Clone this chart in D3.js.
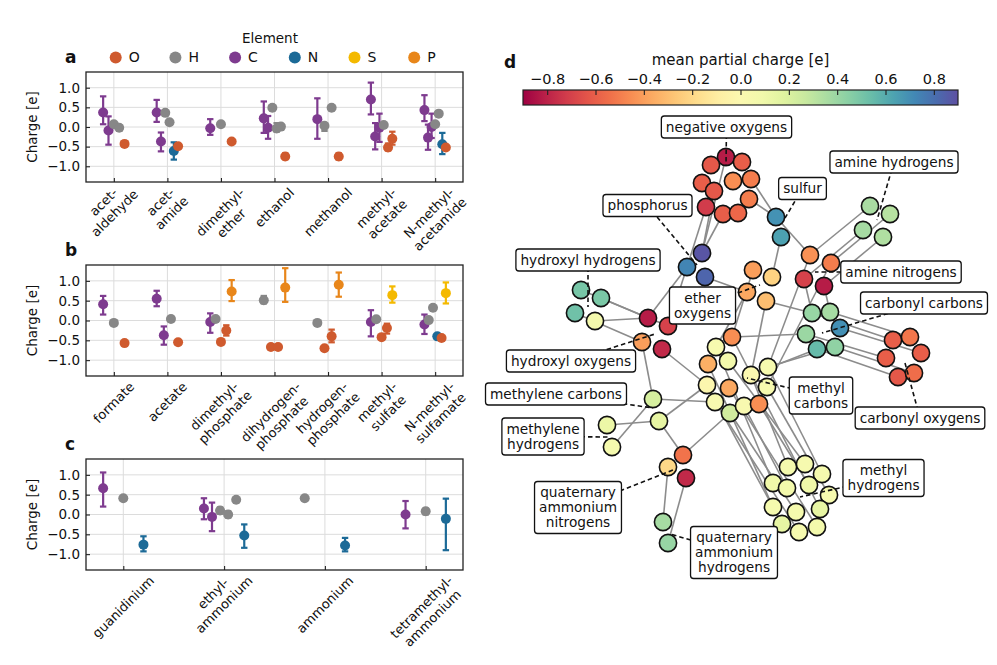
<!DOCTYPE html>
<html>
<head>
<meta charset="utf-8">
<script src="https://cdn.jsdelivr.net/npm/d3@7"></script>
<style>
  body { margin: 0; background: #fff; }
  text { font-family: "DejaVu Sans", sans-serif; fill: #111; }
</style>
</head>
<body>
<svg id="fig" width="997" height="665"></svg>
<script>
// ---- data: panels a-c (mean charge with low/high of the spread) ----
const ELEMENTS = ["O", "H", "C", "N", "S", "P"];
const chargeTicks = [-1.0, -0.5, 0.0, 0.5, 1.0];

const moleculesA = ["acet-\naldehyde", "acet-\namide", "dimethyl-\nether", "ethanol", "methanol", "methyl-\nacetate", "N-methyl-\nacetamide"];
// [molecule index, element, mean, low, high]
const chargesA = [
  [0, "C", 0.37, 0.07, 0.78], [0, "C", -0.09, -0.45, 0.27], [0, "H", 0.07, 0.03, 0.11], [0, "H", -0.02, -0.09, 0.05], [0, "O", -0.43, -0.48, -0.37],
  [1, "C", 0.37, 0.13, 0.69], [1, "C", -0.37, -0.62, -0.14], [1, "H", 0.36, 0.33, 0.39], [1, "H", 0.12, 0.09, 0.15], [1, "N", -0.61, -0.83, -0.39], [1, "O", -0.49, -0.54, -0.44],
  [2, "C", -0.03, -0.2, 0.2], [2, "H", 0.07, 0.05, 0.09], [2, "O", -0.37, -0.43, -0.31],
  [3, "C", 0.22, -0.15, 0.65], [3, "C", -0.02, -0.3, 0.28], [3, "H", 0.49, 0.46, 0.52], [3, "H", -0.04, -0.12, 0.1], [3, "H", 0.01, -0.05, 0.06], [3, "O", -0.75, -0.82, -0.67],
  [4, "C", 0.2, -0.3, 0.73], [4, "H", 0.03, -0.1, 0.1], [4, "H", 0.49, 0.46, 0.52], [4, "O", -0.75, -0.83, -0.67],
  [5, "C", 0.7, 0.32, 1.13], [5, "C", -0.24, -0.57, 0.1], [5, "C", -0.02, -0.38, 0.34], [5, "H", 0.05, 0.02, 0.08], [5, "O", -0.52, -0.6, -0.42], [5, "O", -0.3, -0.45, -0.12],
  [6, "C", 0.43, 0.15, 0.81], [6, "C", -0.27, -0.58, 0.06], [6, "C", 0.0, -0.28, 0.34], [6, "H", 0.07, 0.04, 0.1], [6, "H", 0.34, 0.31, 0.37], [6, "N", -0.44, -0.69, -0.15], [6, "O", -0.52, -0.58, -0.46]
];

const moleculesB = ["formate", "acetate", "dimethyl-\nphosphate", "dihydrogen-\nphosphate", "hydrogen-\nphosphate", "methyl-\nsulfate", "N-methyl-\nsulfamate"];
const chargesB = [
  [0, "C", 0.41, 0.15, 0.62], [0, "H", -0.06, -0.09, -0.03], [0, "O", -0.57, -0.6, -0.54],
  [1, "C", 0.55, 0.36, 0.75], [1, "C", -0.37, -0.61, -0.15], [1, "H", 0.04, 0.01, 0.07], [1, "O", -0.55, -0.58, -0.52],
  [2, "C", -0.04, -0.31, 0.18], [2, "H", 0.04, 0.01, 0.07], [2, "O", -0.54, -0.58, -0.5], [2, "O", -0.25, -0.38, -0.12], [2, "P", 0.73, 0.49, 1.02],
  [3, "H", 0.51, 0.43, 0.62], [3, "O", -0.67, -0.72, -0.62], [3, "O", -0.67, -0.72, -0.62], [3, "P", 0.83, 0.47, 1.32],
  [4, "H", -0.06, -0.09, -0.03], [4, "O", -0.7, -0.74, -0.66], [4, "O", -0.4, -0.55, -0.23], [4, "P", 0.9, 0.6, 1.21],
  [5, "C", -0.04, -0.4, 0.26], [5, "H", 0.03, 0.0, 0.06], [5, "O", -0.42, -0.45, -0.39], [5, "O", -0.19, -0.33, -0.08], [5, "S", 0.64, 0.45, 0.86],
  [6, "C", -0.1, -0.34, 0.15], [6, "H", 0.01, -0.02, 0.04], [6, "H", 0.32, 0.29, 0.35], [6, "N", -0.4, -0.43, -0.37], [6, "O", -0.44, -0.47, -0.41], [6, "S", 0.69, 0.43, 0.96]
];

const moleculesC = ["guanidinium", "ethyl-\nammonium", "ammonium", "tetramethyl-\nammonium"];
const chargesC = [
  [0, "C", 0.66, 0.2, 1.06], [0, "H", 0.41, 0.39, 0.43], [0, "N", -0.76, -0.93, -0.55],
  [1, "C", 0.15, -0.12, 0.41], [1, "C", -0.06, -0.42, 0.3], [1, "H", 0.1, 0.02, 0.18], [1, "H", 0.0, -0.08, 0.08], [1, "H", 0.37, 0.35, 0.39], [1, "N", -0.53, -0.84, -0.25],
  [2, "H", 0.41, 0.39, 0.43], [2, "N", -0.78, -0.93, -0.59],
  [3, "C", 0.0, -0.35, 0.34], [3, "H", 0.08, 0.0, 0.15], [3, "N", -0.11, -0.9, 0.4]
];

// ---- data: panel d (graph layout coordinates, mean partial charge) ----
const graphNodes = [
  ["O1", 726, 157, -0.82], ["O2", 711, 165, -0.62], ["O3", 742, 162, -0.6], ["O4", 702, 183, -0.6],
  ["O5", 733, 181, -0.45], ["O6", 751, 179, -0.5], ["O7", 714, 191, -0.62], ["O8", 749, 199, -0.5],
  ["O9", 706, 207, -0.72], ["O10", 723, 214, -0.6], ["O11", 738, 213, -0.57],
  ["P1", 702, 253, 0.88], ["P2", 687, 267, 0.73], ["P3", 705, 277, 0.83],
  ["S1", 776, 217, 0.69], ["S2", 781, 237, 0.64],
  ["HH1", 581, 290, 0.5], ["HH2", 601, 298, 0.49], ["HH3", 575, 313, 0.52], ["HH4", 595, 321, 0.07],
  ["HO1", 648, 318, -0.82], ["HO2", 668, 326, -0.7], ["HO3", 642, 342, -0.4], ["HO4", 662, 349, -0.78],
  ["E1", 753, 270, -0.4], ["E2", 772, 277, -0.22], ["E3", 747, 292, -0.37], ["E4", 766, 301, -0.3],
  ["AH1", 870, 206, 0.36], ["AH2", 890, 214, 0.32], ["AH3", 863, 230, 0.37], ["AH4", 883, 237, 0.34],
  ["AN1", 810, 255, -0.44], ["AN2", 831, 263, -0.5], ["AN3", 804, 279, -0.7], ["AN4", 824, 286, -0.82],
  ["CC1", 812, 313, 0.41], ["CC2", 830, 312, 0.37], ["CC3", 840, 328, 0.7], ["CC4", 806, 334, 0.4], ["CC5", 817, 349, 0.55], ["CC6", 835, 347, 0.43],
  ["CO1", 893, 340, -0.6], ["CO2", 910, 337, -0.52], ["CO3", 921, 353, -0.6], ["CO4", 886, 358, -0.6], ["CO5", 898, 377, -0.62], ["CO6", 914, 373, -0.55],
  ["M1", 716, 347, 0.04], ["M2", 732, 337, -0.45], ["M3", 708, 364, -0.35], ["M4", 728, 361, 0.08],
  ["M5", 707, 385, -0.03], ["M6", 729, 388, -0.37], ["M7", 715, 402, 0.03], ["M8", 730, 413, 0.24],
  ["M9", 744, 406, 0.03], ["M10", 759, 404, -0.45], ["M11", 751, 375, 0.0], ["M12", 768, 367, 0.05], ["M13", 767, 387, 0.04],
  ["MC1", 653, 399, 0.22], ["MC2", 659, 421, 0.15], ["MH1", 607, 425, 0.12], ["MH2", 612, 447, 0.06],
  ["QN1", 683, 455, -0.53], ["QN2", 668, 467, -0.2], ["QN3", 686, 478, -0.78],
  ["QH1", 663, 522, 0.37], ["QH2", 668, 543, 0.41],
  ["MeH1", 788, 467, 0.07], ["MeH2", 805, 464, 0.05], ["MeH3", 822, 474, 0.06], ["MeH4", 773, 483, 0.1],
  ["MeH5", 787, 488, 0.08], ["MeH6", 809, 485, 0.1], ["MeH7", 829, 495, 0.05], ["MeH8", 773, 507, 0.06],
  ["MeH9", 796, 512, 0.06], ["MeH10", 820, 509, 0.15], ["MeH11", 782, 524, 0.15], ["MeH12", 799, 532, 0.05], ["MeH13", 817, 527, 0.08]
];

const graphEdges = [
  ["O1", "P1"], ["O10", "P1"], ["O9", "P2"], ["O7", "P1"], ["O8", "S1"], ["O6", "S1"],
  ["S1", "AN1"], ["S2", "E2"], ["P3", "E3"], ["P2", "HO1"], ["P2", "HO2"],
  ["HH2", "HO1"], ["HH4", "HO1"], ["HH3", "HO3"], ["HH1", "HO2"],
  ["HO3", "MC1"], ["HO4", "M5"],
  ["MC1", "M7"], ["MC2", "M5"], ["MH1", "MC2"], ["MH2", "MC1"], ["MC2", "QN1"], ["QN1", "M8"],
  ["QN2", "QH1"], ["QN3", "QH2"],
  ["M1", "MeH4"], ["M3", "MeH8"], ["M5", "MeH11"], ["M7", "MeH12"], ["M8", "MeH9"], ["M9", "MeH5"],
  ["M10", "MeH6"], ["M11", "MeH1"], ["M12", "MeH3"], ["M13", "MeH7"], ["M6", "MeH13"], ["M4", "MeH2"], ["M2", "MeH10"],
  ["CC1", "CO1"], ["CC2", "CO2"], ["CC3", "CO3"], ["CC4", "CO4"], ["CC5", "CO5"], ["CC6", "CO6"],
  ["CC1", "AN3"], ["CC2", "AN4"], ["CC4", "M2"], ["CC5", "M11"], ["CC6", "M12"],
  ["E4", "CC1"], ["E3", "M1"], ["E1", "M2"], ["E4", "M11"],
  ["AH1", "AN1"], ["AH2", "AN2"], ["AH3", "AN3"], ["AH4", "AN4"], ["AN1", "M12"], ["AN2", "M13"]
];

// [text, label x, label y, pointed x, pointed y] in layout coordinates
const graphLabels = [
  ["negative oxygens", 726.5, 127, 726, 165],
  ["phosphorus", 647.5, 205.5, 697, 265],
  ["sulfur", 802.5, 188.5, 785, 218],
  ["amine hydrogens", 894, 162, 877, 220],
  ["hydroxyl hydrogens", 588, 260, 588, 307],
  ["ether\noxygens", 702.5, 305.5, 760, 285],
  ["amine nitrogens", 901, 272, 815, 272],
  ["carbonyl carbons", 924, 303, 822, 333],
  ["hydroxyl oxygens", 571, 361, 655, 334],
  ["methylene carbons", 556, 394, 653, 408],
  ["methyl\ncarbons", 821, 395.5, 747, 378],
  ["carbonyl oxygens", 920, 418, 905, 363],
  ["methylene\nhydrogens", 543, 436.5, 610, 437],
  ["methyl\nhydrogens", 883.5, 478, 800, 497],
  ["quaternary\nammonium\nnitrogens", 578, 507.5, 673, 470],
  ["quaternary\nammonium\nhydrogens", 734, 552.5, 670, 534]
];

const colorbarTicks = [-0.8, -0.6, -0.4, -0.2, 0.0, 0.2, 0.4, 0.6, 0.8];

// ---- styles ----
const ELEMENT_COLOR = { O: "#cf5a2e", H: "#878787", C: "#7e3b8f", N: "#1c6a97", S: "#f4b900", P: "#e8861a" };
const PLOT_LEFT = 86, PLOT_RIGHT = 463;
const fmt = d3.format(".1f");

const svg = d3.select("#fig");
svg.append("rect").attr("width", 997).attr("height", 665).attr("fill", "#fff");

// Places a 45 degree category label so its box is centred under the tick (matplotlib style)
function rotatedLabel(parent, name, cx, top, fs) {
  const outer = parent.append("g");
  const t = outer.append("text").attr("font-size", fs).attr("text-anchor", "middle")
    .attr("transform", "rotate(-45)");
  const lines = name.split("\n");
  const lh = 1.2 * fs, asc = 0.93 * fs, desc = 0.24 * fs, c = Math.SQRT1_2;
  lines.forEach((line, k) => {
    t.append("tspan").attr("x", 0).attr("y", k * lh).text(line);
  });
  let minX = Infinity, maxX = -Infinity, minY = Infinity;
  t.selectAll("tspan").nodes().forEach((n, k) => {
    const L = n.getComputedTextLength();
    [[-L / 2, k * lh - asc], [L / 2, k * lh - asc], [-L / 2, k * lh + desc], [L / 2, k * lh + desc]]
      .forEach(([px, py]) => {
        const rx = c * (px + py), ry = c * (-px + py);
        minX = Math.min(minX, rx); maxX = Math.max(maxX, rx); minY = Math.min(minY, ry);
      });
  });
  outer.attr("transform", `translate(${cx - (minX + maxX) / 2},${top - minY})`);
}

// Draws one of the charge panels a, b, c
function drawPanel(p) {
  const n = p.molecules.length;
  const x = d3.scaleLinear().domain([-p.pad, n - 1 + p.pad]).range([PLOT_LEFT, PLOT_RIGHT]);
  const y = d3.scaleLinear().domain([-1.4, 1.4]).range([p.bottom, p.top]);
  const g = svg.append("g");

  // grid
  g.append("g").selectAll("line").data(chargeTicks).join("line")
    .attr("x1", PLOT_LEFT).attr("x2", PLOT_RIGHT)
    .attr("y1", d => y(d)).attr("y2", d => y(d))
    .attr("stroke", "#dcdcdc").attr("stroke-width", 1);
  g.append("g").selectAll("line").data(d3.range(n)).join("line")
    .attr("x1", d => x(d)).attr("x2", d => x(d))
    .attr("y1", p.top).attr("y2", p.bottom)
    .attr("stroke", "#dcdcdc").attr("stroke-width", 1);

  // axes with inward ticks
  const yAxis = g.append("g").attr("transform", `translate(${PLOT_LEFT},0)`)
    .call(d3.axisLeft(y).tickValues(chargeTicks).tickSize(-4).tickPadding(6).tickFormat(fmt));
  yAxis.select(".domain").remove();
  yAxis.selectAll("line").attr("stroke", "#222").attr("stroke-width", 1.1);
  yAxis.selectAll("text").attr("font-size", 13.5).attr("font-family", "DejaVu Sans").attr("fill", "#111");

  const xAxis = g.append("g").attr("transform", `translate(0,${p.bottom})`)
    .call(d3.axisBottom(x).tickValues(d3.range(n)).tickSize(-4).tickFormat(""));
  xAxis.select(".domain").remove();
  xAxis.selectAll("line").attr("stroke", "#222").attr("stroke-width", 1.1);

  p.molecules.forEach((name, i) => rotatedLabel(g, name, x(i), p.bottom + 3, 13));

  // y label
  g.append("text")
    .attr("transform", `translate(33,${(p.top + p.bottom) / 2}) rotate(-90)`)
    .attr("text-anchor", "middle").attr("dominant-baseline", "middle")
    .attr("font-size", 13.5).text("Charge [e]");

  // dodge points inside each molecule
  const counts = d3.rollup(p.charges, v => v.length, d => d[0]);
  const seen = new Map();
  const pts = p.charges.map(d => {
    const k = counts.get(d[0]);
    const i = seen.get(d[0]) || 0;
    seen.set(d[0], i + 1);
    const off = k > 1 ? -0.2 + 0.4 * i / (k - 1) : 0;
    return { pos: d[0] + off, el: d[1], mean: d[2], lo: d[3], hi: d[4] };
  });

  const pg = g.append("g").selectAll("g").data(pts).join("g")
    .attr("stroke", d => ELEMENT_COLOR[d.el]).attr("fill", d => ELEMENT_COLOR[d.el]);
  pg.append("line")
    .attr("x1", d => x(d.pos)).attr("x2", d => x(d.pos))
    .attr("y1", d => y(d.lo)).attr("y2", d => y(d.hi)).attr("stroke-width", 2.2);
  pg.append("line")
    .attr("x1", d => x(d.pos) - 3.2).attr("x2", d => x(d.pos) + 3.2)
    .attr("y1", d => y(d.lo)).attr("y2", d => y(d.lo)).attr("stroke-width", 2.2);
  pg.append("line")
    .attr("x1", d => x(d.pos) - 3.2).attr("x2", d => x(d.pos) + 3.2)
    .attr("y1", d => y(d.hi)).attr("y2", d => y(d.hi)).attr("stroke-width", 2.2);
  pg.append("circle")
    .attr("cx", d => x(d.pos)).attr("cy", d => y(d.mean)).attr("r", 5).attr("stroke", "none");

  // frame
  g.append("rect")
    .attr("x", PLOT_LEFT).attr("y", p.top)
    .attr("width", PLOT_RIGHT - PLOT_LEFT).attr("height", p.bottom - p.top)
    .attr("fill", "none").attr("stroke", "#222").attr("stroke-width", 1.3);

  svg.append("text").attr("x", 65).attr("y", p.top - 9)
    .attr("font-size", 17).attr("font-weight", "bold").text(p.tag);
}

drawPanel({ tag: "a", molecules: moleculesA, charges: chargesA, top: 72, bottom: 182, pad: 0.52 });
drawPanel({ tag: "b", molecules: moleculesB, charges: chargesB, top: 265, bottom: 376, pad: 0.52 });
drawPanel({ tag: "c", molecules: moleculesC, charges: chargesC, top: 459, bottom: 570, pad: 0.37 });

// legend
svg.append("text").attr("x", 270).attr("y", 43).attr("text-anchor", "middle")
  .attr("font-size", 13.5).text("Element");
const leg = svg.append("g").selectAll("g").data(ELEMENTS).join("g")
  .attr("transform", (d, i) => `translate(${115.7 + i * 59.7},57.5)`);
leg.append("circle").attr("r", 6).attr("fill", d => ELEMENT_COLOR[d]);
leg.append("text").attr("x", 13).attr("dy", "0.35em").attr("font-size", 14).text(d => d);

// ---- panel d ----
const chargeColor = d3.scaleSequential(d3.interpolateSpectral).domain([-0.9, 0.9]);
const cbar = d3.scaleLinear().domain([-0.9, 0.9]).range([523, 958]);
const CB_TOP = 90, CB_H = 15;

const grad = svg.append("defs").append("linearGradient").attr("id", "cbgrad")
  .attr("x1", "0%").attr("x2", "100%").attr("y1", "0%").attr("y2", "0%");
d3.range(0, 1.0001, 0.05).forEach(t => {
  grad.append("stop").attr("offset", `${t * 100}%`).attr("stop-color", d3.interpolateSpectral(t));
});
svg.append("rect").attr("x", cbar.range()[0]).attr("y", CB_TOP)
  .attr("width", cbar.range()[1] - cbar.range()[0]).attr("height", CB_H)
  .attr("fill", "url(#cbgrad)").attr("stroke", "#222").attr("stroke-width", 1.2);
const cbAxis = svg.append("g").attr("transform", `translate(0,${CB_TOP})`)
  .call(d3.axisTop(cbar).tickValues(colorbarTicks).tickSize(-5).tickPadding(6).tickFormat(fmt));
cbAxis.select(".domain").remove();
cbAxis.selectAll("line").attr("stroke", "#222").attr("stroke-width", 1.1);
cbAxis.selectAll("text").attr("font-size", 14.5).attr("font-family", "DejaVu Sans").attr("fill", "#111");
svg.append("text").attr("x", (cbar.range()[0] + cbar.range()[1]) / 2).attr("y", 64.5)
  .attr("text-anchor", "middle").attr("font-size", 15).text("mean partial charge [e]");
svg.append("text").attr("x", 504).attr("y", 68)
  .attr("font-size", 17).attr("font-weight", "bold").text("d");

// graph
const gx = d3.scaleLinear().domain([500, 990]).range([500, 990]);
const gy = d3.scaleLinear().domain([110, 640]).range([110, 640]);
const nodeById = new Map(graphNodes.map(d => [d[0], d]));
const gd = svg.append("g");

gd.append("g").selectAll("line").data(graphEdges).join("line")
  .attr("x1", d => gx(nodeById.get(d[0])[1])).attr("y1", d => gy(nodeById.get(d[0])[2]))
  .attr("x2", d => gx(nodeById.get(d[1])[1])).attr("y2", d => gy(nodeById.get(d[1])[2]))
  .attr("stroke", "#8c8c8c").attr("stroke-width", 1.6);

gd.append("g").selectAll("circle").data(graphNodes).join("circle")
  .attr("cx", d => gx(d[1])).attr("cy", d => gy(d[2])).attr("r", 8.6)
  .attr("fill", d => chargeColor(d[3]))
  .attr("stroke", "#111").attr("stroke-width", 1.6);

// leader lines, then boxed labels on top
gd.append("g").selectAll("line").data(graphLabels).join("line")
  .attr("x1", d => gx(d[1])).attr("y1", d => gy(d[2]))
  .attr("x2", d => gx(d[3])).attr("y2", d => gy(d[4]))
  .attr("stroke", "#111").attr("stroke-width", 1.6).attr("stroke-dasharray", "4.5,3");

const LINE_H = 15, BOX_PAD = 4.5;
graphLabels.forEach(d => {
  const lines = d[0].split("\n");
  const lg = gd.append("g").attr("transform", `translate(${gx(d[1])},${gy(d[2])})`);
  const box = lg.append("rect");
  const t = lg.append("text").attr("text-anchor", "middle").attr("font-size", 13.7);
  lines.forEach((line, k) => {
    t.append("tspan").attr("x", 0)
      .attr("y", (k - (lines.length - 1) / 2) * LINE_H)
      .attr("dy", "0.35em").text(line);
  });
  const w = d3.max(t.selectAll("tspan").nodes(), n => n.getComputedTextLength()) + 2 * BOX_PAD;
  const h = lines.length * LINE_H + 7;
  box.attr("x", -w / 2).attr("y", -h / 2).attr("width", w).attr("height", h)
    .attr("rx", 3).attr("fill", "#fff").attr("stroke", "#111").attr("stroke-width", 1.3);
});
</script>
</body>
</html>
